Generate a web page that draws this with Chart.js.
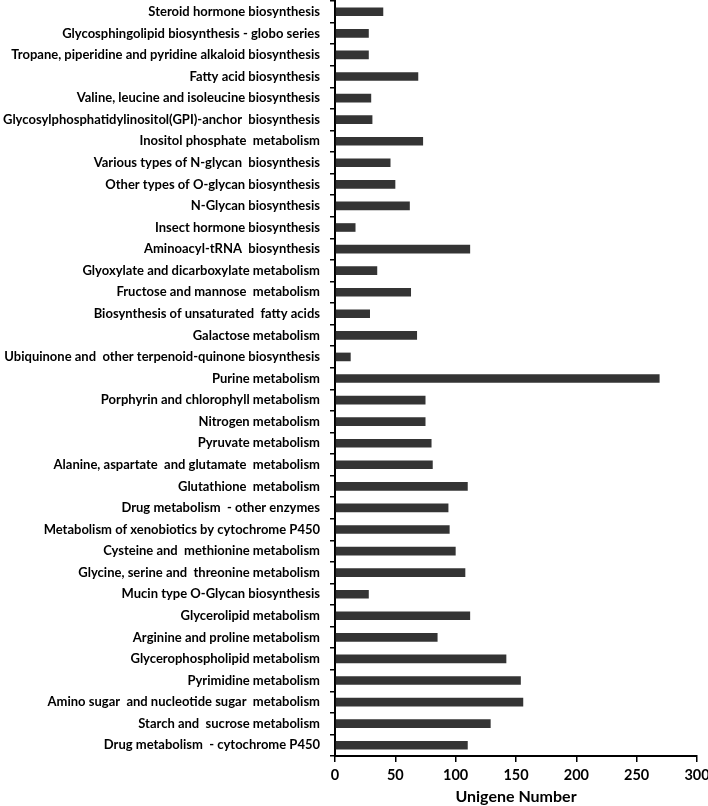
<!DOCTYPE html>
<html>
<head>
<meta charset="utf-8">
<script src="https://cdn.jsdelivr.net/npm/chart.js@4"></script>
<style>
  html, body { margin: 0; padding: 0; background: #fff; }
  #wrap { width: 708px; height: 806px; }
</style>
</head>
<body>
<div id="wrap"><canvas id="chart" width="708" height="806"></canvas></div>
<script>
// pathway names, top to bottom
const pathways = [
  'Steroid hormone biosynthesis',
  'Glycosphingolipid biosynthesis - globo series',
  'Tropane, piperidine and pyridine alkaloid biosynthesis',
  'Fatty acid biosynthesis',
  'Valine, leucine and isoleucine biosynthesis',
  'Glycosylphosphatidylinositol(GPI)-anchor  biosynthesis',
  'Inositol phosphate  metabolism',
  'Various types of N-glycan  biosynthesis',
  'Other types of O-glycan biosynthesis',
  'N-Glycan biosynthesis',
  'Insect hormone biosynthesis',
  'Aminoacyl-tRNA  biosynthesis',
  'Glyoxylate and dicarboxylate metabolism',
  'Fructose and mannose  metabolism',
  'Biosynthesis of unsaturated  fatty acids',
  'Galactose metabolism',
  'Ubiquinone and  other terpenoid-quinone biosynthesis',
  'Purine metabolism',
  'Porphyrin and chlorophyll metabolism',
  'Nitrogen metabolism',
  'Pyruvate metabolism',
  'Alanine, aspartate  and glutamate  metabolism',
  'Glutathione  metabolism',
  'Drug metabolism  - other enzymes',
  'Metabolism of xenobiotics by cytochrome P450',
  'Cysteine and  methionine metabolism',
  'Glycine, serine and  threonine metabolism',
  'Mucin type O-Glycan biosynthesis',
  'Glycerolipid metabolism',
  'Arginine and proline metabolism',
  'Glycerophospholipid metabolism',
  'Pyrimidine metabolism',
  'Amino sugar  and nucleotide sugar  metabolism',
  'Starch and  sucrose metabolism',
  'Drug metabolism  - cytochrome P450'
];

// unigene counts, same order
const unigenes = [
  40, 28, 28, 69, 30, 31, 73, 46, 50, 62,
  17, 112, 35, 63, 29, 68, 13, 269, 75, 75,
  80, 81, 110, 94, 95, 100, 108, 28, 112, 85,
  142, 154, 156, 129, 110
];

const xTicks = [0, 50, 100, 150, 200, 250, 300];

const fontFamily = "Lato, 'Open Sans', sans-serif";

new Chart(document.getElementById('chart').getContext('2d'), {
  type: 'bar',
  data: {
    labels: pathways,
    datasets: [{
      data: unigenes,
      backgroundColor: '#343434',
      borderWidth: 0,
      barPercentage: 0.4,
      categoryPercentage: 1.0
    }]
  },
  options: {
    indexAxis: 'y',
    responsive: false,
    animation: false,
    layout: { padding: { top: 1, right: 11, bottom: 0, left: 0 } },
    plugins: {
      legend: { display: false },
      tooltip: { enabled: false }
    },
    scales: {
      y: {
        grid: { drawOnChartArea: false, drawTicks: true, tickLength: 5, color: '#000', lineWidth: 1.5 },
        border: { color: '#000', width: 2 },
        ticks: { color: '#000', font: { family: fontFamily, size: 13, weight: 'bold' }, padding: 10, autoSkip: false },
        afterFit: (scale) => {
          scale.width = 335;
          scale.paddingTop = 0;
          scale.paddingBottom = 0;
        }
      },
      x: {
        min: 0,
        max: 300,
        afterBuildTicks: (scale) => { scale.ticks = xTicks.map(v => ({ value: v })); },
        grid: { drawOnChartArea: false, drawTicks: true, tickLength: 6, color: '#000', lineWidth: 1.5 },
        border: { color: '#000', width: 2 },
        ticks: { color: '#000', font: { family: fontFamily, size: 14.5, weight: 'bold' }, padding: 5 },
        title: {
          display: true,
          text: 'Unigene Number',
          color: '#000',
          font: { family: fontFamily, size: 16, weight: 'bold' },
          padding: { top: 2, bottom: 0 }
        },
        afterFit: (scale) => {
          scale.height = 50;
          scale.paddingLeft = 0;
          scale.paddingRight = 0;
        }
      }
    }
  }
});
</script>
</body>
</html>
